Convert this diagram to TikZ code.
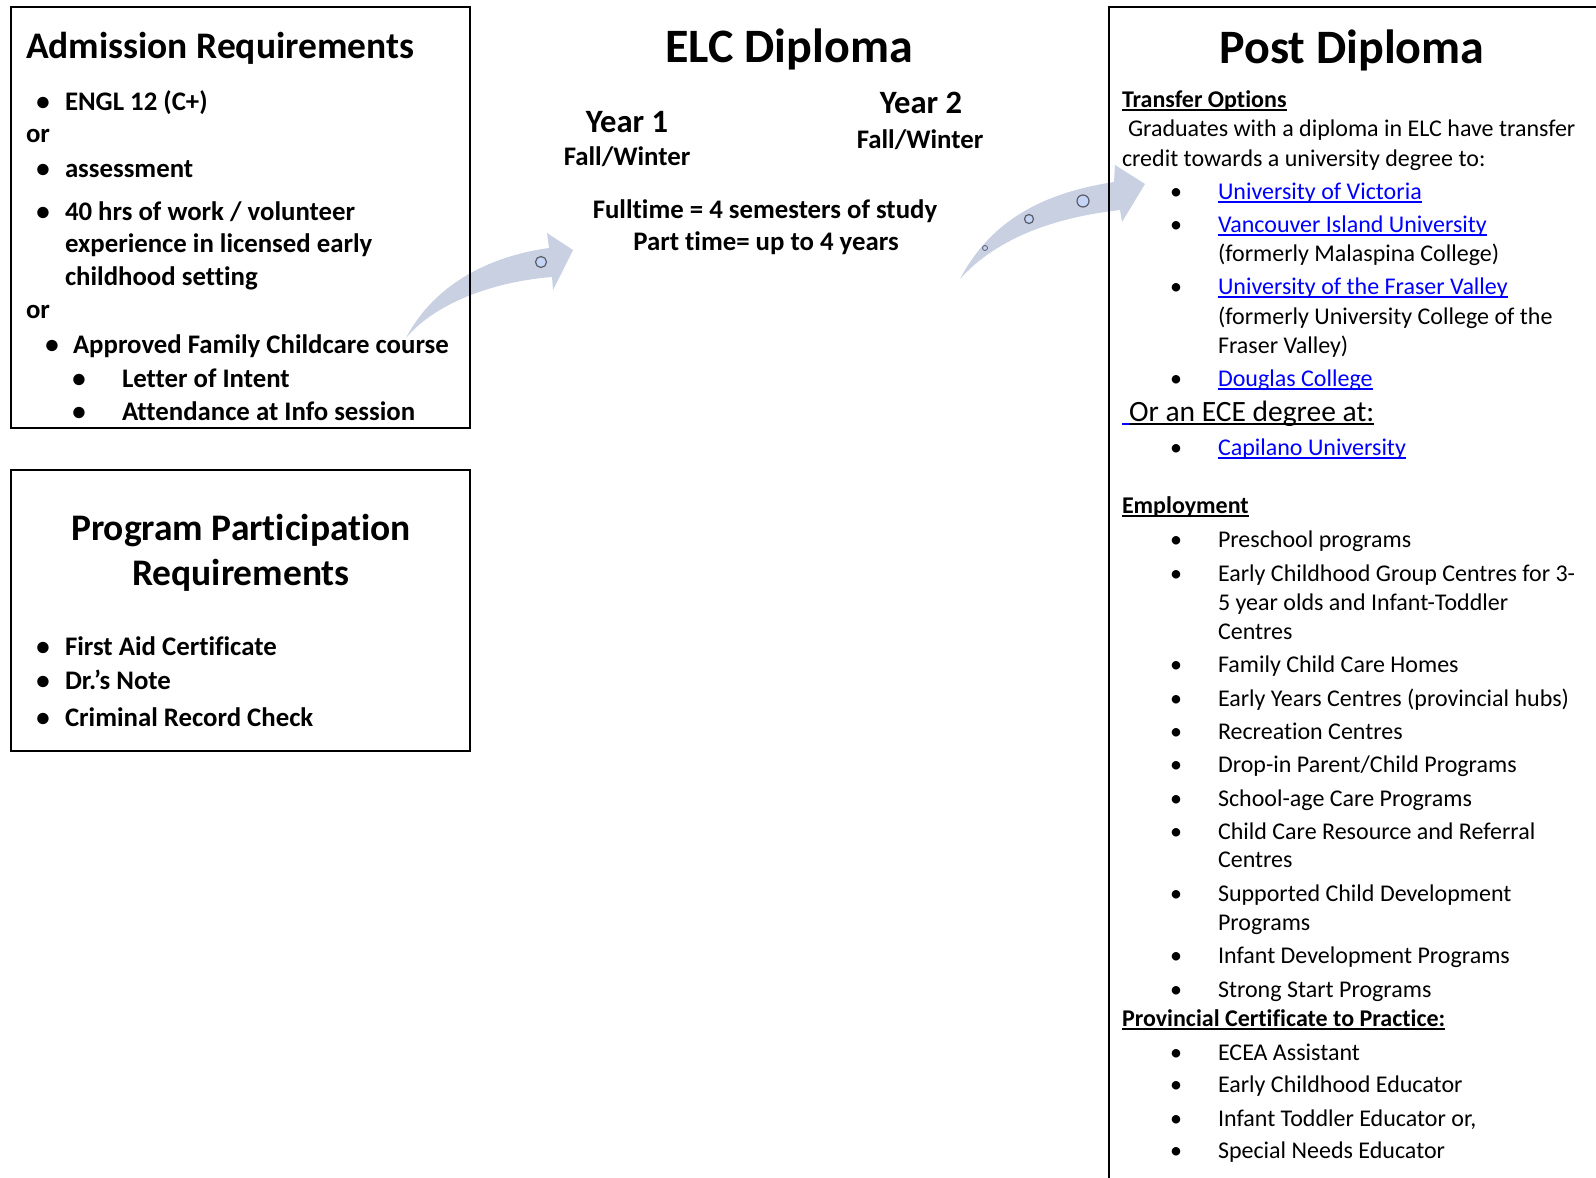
\documentclass[tikz,border=0pt]{standalone}
\usepackage{fontspec}
\setmainfont{Carlito}[Ligatures=NoCommon]
\usetikzlibrary{positioning}
\definecolor{linkblue}{RGB}{0,0,255}
\definecolor{arrowfill}{RGB}{200,208,226}
\definecolor{dotfill}{RGB}{196,212,245}
\definecolor{dotline}{RGB}{90,92,105}
\tikzset{inner sep=0pt, outer sep=0pt}
\tikzset{
  frame/.style={draw, line width=2pt},
  txt/.style={anchor=base west, font=\fontsize{24}{29}\selectfont},
  hdr/.style={anchor=base west, font=\fontsize{24}{29}\selectfont\bfseries},
  btxt/.style={anchor=base west, font=\fontsize{26.8}{32}\selectfont\bfseries},
  ctxt/.style={anchor=base, font=\fontsize{#1}{#1}\selectfont\bfseries},
  bul/.style={anchor=base, font=\fontsize{24}{29}\selectfont},
  bbul/.style={anchor=base, font=\fontsize{26.8}{32}\selectfont\bfseries},
  link/.style={txt, text=linkblue, ul=linkblue},
  ul/.style={append after command={
    ([yshift=-3pt]\tikzlastnode.base west) edge[draw=#1, line width=1.6pt]
    ([yshift=-3pt]\tikzlastnode.base east)}},
  ul/.default=black,
  arrowbody/.style={fill=arrowfill},
  dot/.style={circle, fill=dotfill, draw=dotline, line width=1.2pt}
}

\begin{document}
\begin{tikzpicture}[x=1pt, y=-1pt]
\useasboundingbox (0,0) rectangle (1596,1178);

% curved arrows
\path[arrowbody] (406,338) .. controls (430,292) and (478,258) .. (549,248)
  -- (547,233) -- (573,250) -- (553,290) -- (552,277)
  .. controls (500,281) and (438,300) .. (406,338) -- cycle;
\node[dot, minimum size=11pt] (d1) at (541,262) {};
\path[arrowbody] (960,279) .. controls (988,226) and (1035,194) .. (1114,182)
  -- (1115,165) -- (1145,184) -- (1122,222) -- (1120,210)
  .. controls (1050,218) and (995,240) .. (960,279) -- cycle;
\node[dot, minimum size=5pt, line width=0.8pt] (d2) at (985,248) {};
\node[dot, minimum size=9pt] (d3) at (1029,219) {};
\node[dot, minimum size=12pt] (d4) at (1083,201) {};

% boxes
\draw[frame] (11,7) rectangle (470,428);
\draw[frame] (11,470) rectangle (470,751);
\draw[frame] (1596,7) -- (1109,7) -- (1109,1190);

% admission requirements
\node[anchor=base west, font=\fontsize{37.5}{42}\selectfont\bfseries] (adm) at (26,58) {Admission Requirements};
\foreach \yy in {110,177,220} {
  \node[bbul] (ab\yy) at (43,\yy) {\textbullet};
} % end of \foreach \yy
\node[btxt] (engl) at (65,110) {ENGL 12 (C+)};
\node[btxt] (or1) at (26,142) {or};
\node[btxt] (assess) at (65,177) {assessment};
\node[btxt] (hrs1) at (65,220) {40 hrs of work / volunteer};
\node[btxt] (hrs2) at (65,252) {experience in licensed early};
\node[btxt] (hrs3) at (65,285) {childhood setting};
\node[btxt] (or2) at (26,318) {or};
\node[bbul] (ab353) at (52,353) {\textbullet};
\node[btxt] (course) at (73,353) {Approved Family Childcare course};
\node[bbul] (ab387) at (79,387) {\textbullet};
\node[btxt] (letter) at (122,387) {Letter of Intent};
\node[bbul] (ab420) at (79,420) {\textbullet};
\node[btxt] (attend) at (122,420) {Attendance at Info session};

% program participation
\node[ctxt=37.5] (prog1) at (241,540) {Program Participation};
\node[ctxt=37.5] (prog2) at (241,585) {Requirements};
\foreach \yy/\txt in {655/First Aid Certificate, 689/Dr.’s Note, 726/Criminal Record Check} {
  \node[bbul] (pb\yy) at (43,\yy) {\textbullet};
  \node[btxt] (pt\yy) at (65,\yy) {\txt};
} % end of \foreach \yy

% ELC diploma
\node[ctxt=48] (elc) at (789,62) {ELC Diploma};
\node[ctxt=32.6] (year1) at (627,132) {Year 1};
\node[ctxt=26.8] (fw1) at (627,165) {Fall/Winter};
\node[ctxt=32.6] (year2) at (921,113) {Year 2};
\node[ctxt=26.8] (fw2) at (920,148) {Fall/Winter};
\node[ctxt=26.8] (full) at (765,218) {Fulltime = 4 semesters of study};
\node[ctxt=26.8] (part) at (766,250) {Part time= up to 4 years};

% post diploma
\node[ctxt=48] (post) at (1352,63) {Post Diploma};
\node[hdr, ul] (transfer) at (1122,107) {Transfer Options};
\node[txt] (grad1) at (1128,136) {Graduates with a diploma in ELC have transfer};
\node[txt] (grad2) at (1122,166) {credit towards a university degree to:};
\foreach \yy in {199,232,294,386,455} {
  \node[bul] (tb\yy) at (1176,\yy) {\textbullet};
} % end of \foreach \yy
\node[link] (uvic) at (1218,199) {University of Victoria};
\node[link] (viu) at (1218,232) {Vancouver Island University};
\node[txt] (viu2) at (1218,261) {(formerly Malaspina College)};
\node[link] (ufv) at (1218,294) {University of the Fraser Valley};
\node[txt] (ufv2) at (1218,324) {(formerly University College of the};
\node[txt] (ufv3) at (1218,353) {Fraser Valley)};
\node[link] (douglas) at (1218,386) {Douglas College};
\node[anchor=base west, font=\fontsize{29.5}{33}\selectfont, ul] (ece) at (1129,421) {Or an ECE degree at:};
\draw[linkblue, line width=1.6pt] ([yshift=-3pt, xshift=-7pt]ece.base west) -- ([yshift=-3pt]ece.base west);
\node[link] (capilano) at (1218,455) {Capilano University};

\node[hdr, ul] (employ) at (1122,513) {Employment};
\foreach \yy in {547,581,672,706,739,772,806,839,901,963,997} {
  \node[bul] (eb\yy) at (1176,\yy) {\textbullet};
} % end of \foreach \yy
\foreach \yy/\txt in {547/Preschool programs, 581/Early Childhood Group Centres for 3-,
    610/5 year olds and Infant-Toddler, 639/Centres, 672/Family Child Care Homes,
    706/Early Years Centres (provincial hubs), 739/Recreation Centres,
    772/{Drop-in Parent/Child Programs}, 806/School-age Care Programs,
    839/Child Care Resource and Referral, 867/Centres, 901/Supported Child Development,
    930/Programs, 963/Infant Development Programs, 997/Strong Start Programs} {
  \node[txt] (et\yy) at (1218,\yy) {\txt};
} % end of \foreach \yy

\node[hdr, ul] (cert) at (1122,1026) {Provincial Certificate to Practice:};
\foreach \yy/\txt in {1060/ECEA Assistant, 1092/Early Childhood Educator,
    1126/{Infant Toddler Educator or,}, 1158/Special Needs Educator} {
  \node[bul] (cb\yy) at (1176,\yy) {\textbullet};
  \node[txt] (ct\yy) at (1218,\yy) {\txt};
} % end of \foreach \yy
\end{tikzpicture}
\end{document}
